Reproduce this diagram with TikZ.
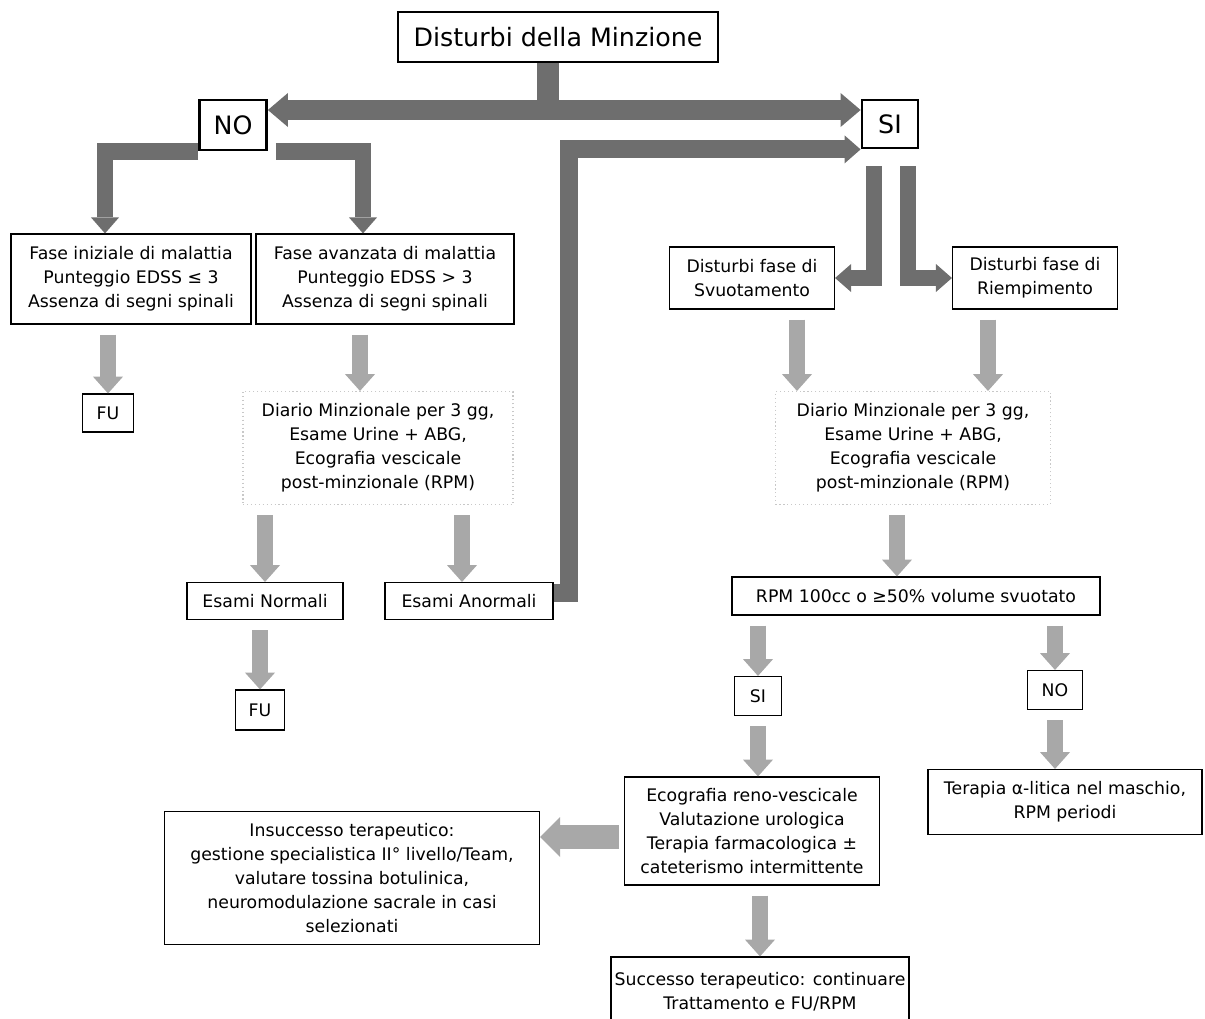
\documentclass[tikz,border=0pt]{standalone}
\usepackage{fontspec}
\setmainfont{DejaVu Sans}
\usepackage{xcolor}
\usepackage{tikz}
\usetikzlibrary{arrows.meta, positioning}
\definecolor{arrdark}  {HTML}{6E6E6E}
\definecolor{arrlight} {HTML}{A8A8A8}
\definecolor{notegray} {HTML}{C8C8C8}
\newcommand{\boxfont}{\fontsize{12.3}{17}\selectfont}
\newcommand{\headfont}{\fontsize{18}{21}\selectfont}

\begin{document}
\begin{tikzpicture}[
    x=0.025cm, y=-0.025cm,
    wh/.style 2 args={minimum width=#1*0.025cm, minimum height=#2*0.025cm},
    box/.style={draw, line width=0.8pt, fill=white, align=center,
                inner sep=2pt, font=\boxfont},
    headbox/.style={box, line width=2pt, font=\headfont},
    notebox/.style={box, draw=notegray, dotted},
    dnarr/.style={draw=arrlight, line width=0.4cm, shorten <=0.25cm,
                  -{Triangle[line width=0pt, length=0.42cm, width=0.75cm]}},
    bigarr/.style={draw=arrdark, line width=0.45cm,
                   -{Triangle[line width=0pt, length=0.4cm, width=0.7cm]}},
  ]
    \useasboundingbox (0,0) rectangle (1205,1019);

    % top level
    \node[headbox, wh={320}{50}] (title) at (558,37) {Disturbi della Minzione};
    \node[headbox, wh={67}{50}] (no) at (233,125) {NO};
    \node[headbox, wh={56}{48}] (si) at (890,124) {SI};

    % NO branch
    \node[box, wh={240}{90}] (iniz) at (131,279)
      {Fase iniziale di malattia\\Punteggio EDSS ≤ 3\\Assenza di segni spinali};
    \node[box, wh={258}{90}] (avanz) at (385,279)
      {Fase avanzata di malattia\\Punteggio EDSS > 3\\Assenza di segni spinali};
    \node[box, wh={51}{38}] (fu1) at (108,413) {FU};
    \node[notebox, wh={270}{113}] (diario1) at (378,448)
      {Diario Minzionale per 3 gg,\\Esame Urine + ABG,\\Ecografia vescicale\\post-minzionale (RPM)};
    \node[box, wh={156}{37}] (normali) at (265,601) {Esami Normali};
    \node[box, wh={168}{37}] (anormali) at (469,601) {Esami Anormali};
    \node[box, wh={49}{40}] (fu2) at (260,710) {FU};

    % SI branch
    \node[box, wh={165}{62}] (svuot) at (752,278) {Disturbi fase di\\Svuotamento};
    \node[box, wh={165}{62}] (riemp) at (1035,278) {Disturbi fase di\\Riempimento};
    \node[notebox, wh={275}{113}] (diario2) at (913,448)
      {Diario Minzionale per 3 gg,\\Esame Urine + ABG,\\Ecografia vescicale\\post-minzionale (RPM)};
    \node[box, wh={368}{38}] (rpm) at (916,596) {RPM 100cc o ≥50\% volume svuotato};
    \node[box, wh={47}{39}] (si2) at (758,696) {SI};
    \node[box, wh={55}{39}] (no2) at (1055,690) {NO};
    \node[box, wh={255}{108}] (ecog) at (752,831)
      {Ecografia reno-vescicale\\Valutazione urologica\\Terapia farmacologica ±\\cateterismo intermittente};
    \node[box, wh={375}{133}] (insucc) at (352,878)
      {Insuccesso terapeutico:\\gestione specialistica II° livello/Team,\\valutare tossina botulinica,\\neuromodulazione sacrale in casi\\selezionati};
    \node[box, wh={274}{65}] (alfa) at (1065,802) {Terapia α-litica nel maschio,\\RPM periodi};
    \node[box, wh={298}{70}, inner sep=1pt] (succ) at (760,992) {Successo terapeutico: continuare\\Trattamento e FU/RPM};

    % big block arrows
    \coordinate (hub) at (548,110);
    \coordinate (bend) at (si.south west -| 569,0);
    \draw[bigarr, -, line width=0.55cm] (title.south -| hub) -- (hub);
    \draw[bigarr, line width=0.5cm,
          {Triangle[line width=0pt, length=0.5cm, width=0.85cm]}-{Triangle[line width=0pt, length=0.5cm, width=0.85cm]}]
      (no.east |- hub) -- (si.west |- hub);
    \draw[bigarr, line width=0.42cm] (no.south west) -| (iniz.north -| 105,0);
    \draw[bigarr, line width=0.42cm, shorten <=0.2cm] (no.south east) -| (avanz.north -| 363,0);
    \draw[bigarr, line width=0.45cm] ([yshift=0.2cm]anormali.east) -| (bend) -- (si.south west);
    \draw[bigarr, line width=0.4cm, shorten <=0.42cm] ([xshift=-0.4cm]si.south) |- (svuot.east);
    \draw[bigarr, line width=0.4cm, shorten <=0.42cm] ([xshift=0.45cm]si.south) |- (riemp.west);

    % small block arrows
    \draw[dnarr] (iniz.south -| fu1.north) -- (fu1.north);
    \draw[dnarr] (avanz.south -| 360,0) -- (diario1.north -| 360,0);
    \draw[dnarr] (diario1.south -| normali.north) -- (normali.north);
    \draw[dnarr] (diario1.south -| 462,0) -- (anormali.north -| 462,0);
    \draw[dnarr] (normali.south -| fu2.north) -- (fu2.north);
    \draw[dnarr] (svuot.south -| 797,0) -- (diario2.north -| 797,0);
    \draw[dnarr] (riemp.south -| 988,0) -- (diario2.north -| 988,0);
    \draw[dnarr] (diario2.south -| 897,0) -- (rpm.north -| 897,0);
    \draw[dnarr] (rpm.south -| si2.north) -- (si2.north);
    \draw[dnarr] (rpm.south -| no2.north) -- (no2.north);
    \draw[dnarr] (si2.south) -- (ecog.north -| si2.south);
    \draw[dnarr] (no2.south) -- (alfa.north -| no2.south);
    \draw[dnarr] (ecog.south -| succ.north) -- (succ.north);
    \draw[dnarr, line width=0.6cm, shorten <=0.12cm,
          -{Triangle[line width=0pt, length=0.5cm, width=1cm]}]
      ([yshift=-0.15cm]ecog.west) -- ([yshift=-0.15cm]insucc.east |- ecog.west);
  \end{tikzpicture}
\end{document}
